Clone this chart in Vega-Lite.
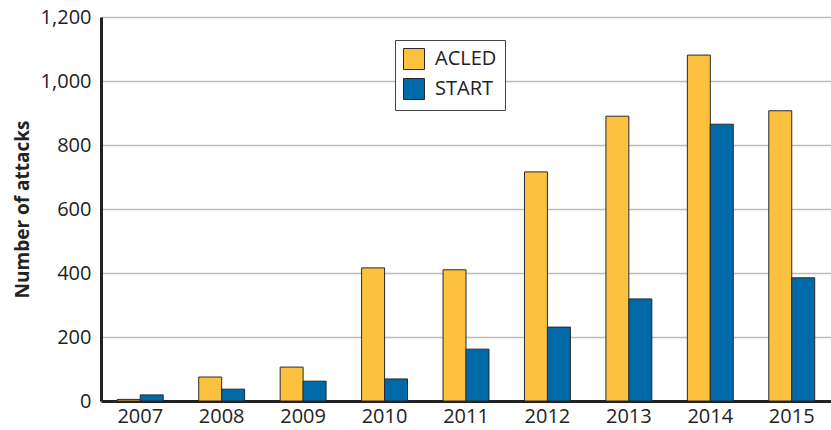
{
  "$schema": "https://vega.github.io/schema/vega-lite/v6.json",
  "autosize": "none",
  "padding": {"left": 101, "top": 17, "right": 0, "bottom": 29},
  "width": 730,
  "height": 384,
  "background": "white",
  "config": {
    "font": "Open Sans",
    "view": {"stroke": null}
  },
  "data": {
    "values": [
      {"year": "2007", "source": "ACLED", "attacks": 5},
      {"year": "2007", "source": "START", "attacks": 19},
      {"year": "2008", "source": "ACLED", "attacks": 75},
      {"year": "2008", "source": "START", "attacks": 37},
      {"year": "2009", "source": "ACLED", "attacks": 106},
      {"year": "2009", "source": "START", "attacks": 62},
      {"year": "2010", "source": "ACLED", "attacks": 416},
      {"year": "2010", "source": "START", "attacks": 69},
      {"year": "2011", "source": "ACLED", "attacks": 410},
      {"year": "2011", "source": "START", "attacks": 162},
      {"year": "2012", "source": "ACLED", "attacks": 716},
      {"year": "2012", "source": "START", "attacks": 231},
      {"year": "2013", "source": "ACLED", "attacks": 890},
      {"year": "2013", "source": "START", "attacks": 319},
      {"year": "2014", "source": "ACLED", "attacks": 1081},
      {"year": "2014", "source": "START", "attacks": 865},
      {"year": "2015", "source": "ACLED", "attacks": 907},
      {"year": "2015", "source": "START", "attacks": 385}
    ]
  },
  "mark": {"type": "bar", "stroke": "#2a2a2a", "strokeWidth": 1},
  "encoding": {
    "x": {
      "field": "year",
      "type": "nominal",
      "scale": {"paddingInner": 0.436, "paddingOuter": 0.2},
      "axis": {
        "title": null,
        "labelAngle": 0,
        "labelFontSize": 20,
        "labelColor": "#222",
        "labelPadding": 5,
        "ticks": false,
        "domainColor": "#222",
        "domainWidth": 3
      }
    },
    "xOffset": {"field": "source", "type": "nominal", "sort": ["ACLED", "START"]},
    "y": {
      "field": "attacks",
      "type": "quantitative",
      "scale": {"domain": [0, 1200], "nice": false},
      "axis": {
        "title": "Number of attacks",
        "titleFontSize": 19,
        "titleFontWeight": "bold",
        "titleColor": "#222",
        "titlePadding": 8,
        "values": [0, 200, 400, 600, 800, 1000, 1200],
        "format": ",d",
        "labelFontSize": 20,
        "labelColor": "#222",
        "labelPadding": 10,
        "ticks": false,
        "domainColor": "#222",
        "domainWidth": 3,
        "grid": true,
        "gridColor": "#bbbbbb",
        "gridWidth": 1.5
      }
    },
    "color": {
      "field": "source",
      "type": "nominal",
      "scale": {"domain": ["ACLED", "START"], "range": ["#fdc140", "#006aa8"]},
      "legend": {
        "title": null,
        "orient": "none",
        "legendX": 294,
        "legendY": 23,
        "symbolType": "square",
        "symbolSize": 441,
        "symbolStrokeColor": "#2a2a2a",
        "symbolStrokeWidth": 1,
        "labelFontSize": 20,
        "labelColor": "#222",
        "labelOffset": 10,
        "rowPadding": 4,
        "padding": 8,
        "strokeColor": "#444",
        "fillColor": "white"
      }
    }
  }
}
